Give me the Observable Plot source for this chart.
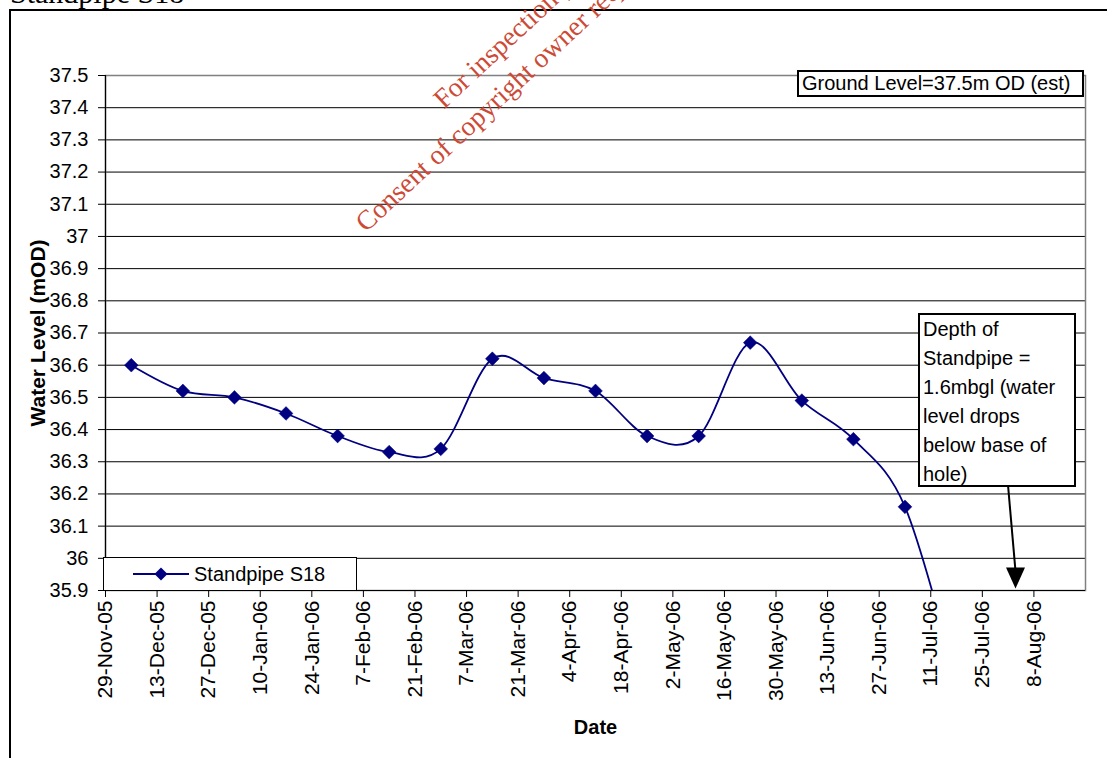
<!DOCTYPE html>
<html>
<head>
<meta charset="utf-8">
<script src="https://cdn.jsdelivr.net/npm/d3@7"></script>
<script src="https://cdn.jsdelivr.net/npm/@observablehq/plot@0.6"></script>
<style>
html, body { margin: 0; padding: 0; background: #fff; width: 1107px; height: 758px; overflow: hidden; }
#wrap { position: relative; width: 1107px; height: 758px; overflow: hidden; font-family: "Liberation Sans", Arial, sans-serif; color: #000; }
#frame { position: absolute; left: 9px; top: 9px; width: 1300px; height: 1000px; border-left: 2px solid #000; border-top: 2px solid #000; }
#title { position: absolute; left: 10px; top: -22px; font-family: "Liberation Serif", "Times New Roman", serif; font-size: 30px; line-height: 30px; white-space: nowrap; }
#chart { position: absolute; left: 0; top: 0; }
.box { position: absolute; background: #fff; border: 2px solid #000; box-sizing: border-box; font-size: 20px; z-index: 3; }
#ground { left: 797px; top: 70px; width: 287px; height: 27px; line-height: 23px; padding-left: 3px; white-space: nowrap; }
#depth { left: 918px; top: 313px; width: 158px; height: 174px; line-height: 29px; padding-left: 3px; padding-top: 0px; }
#legend { left: 103px; top: 557px; width: 254px; height: 34px; border-width: 1.5px; display: flex; align-items: center; }
#legend svg { margin-left: 29px; margin-right: 5px; }
#wm { position: absolute; left: 0; top: 0; z-index: 5; pointer-events: none; }
</style>
</head>
<body>
<div id="wrap">
  <div id="frame"></div>
  <div id="title">Standpipe S18</div>
  <div id="chart"></div>
  <div class="box" id="ground">Ground Level=37.5m OD (est)</div>
  <div class="box" id="depth">Depth of<br>Standpipe =<br>1.6mbgl (water<br>level drops<br>below base of<br>hole)</div>
  <div class="box" id="legend"><svg width="56" height="20"><line x1="0" y1="10" x2="56" y2="10" stroke="#000080" stroke-width="1.8"/><path d="M28,3.5 L34.5,10 L28,16.5 L21.5,10 Z" fill="#000080"/></svg><span>Standpipe S18</span></div>
  <svg id="wm" width="1107" height="758">
    <g transform="translate(366,233) rotate(-43)" font-family="Liberation Serif, Times New Roman, serif" font-size="27.5" fill="#cc4a36">
      <text id="wm2" x="0" y="0">Consent of copyright owner required for any other use.</text>
      <text id="wm1" x="286" y="-37" text-anchor="middle">For inspection purposes only.</text>
    </g>
  </svg>
</div>
<script>
// ---- data ----
const sampleDates = ["2005-12-06","2005-12-20","2006-01-03","2006-01-17","2006-01-31","2006-02-14","2006-02-28","2006-03-14","2006-03-28","2006-04-11","2006-04-25","2006-05-09","2006-05-23","2006-06-06","2006-06-20","2006-07-04","2006-07-18"];
const waterLevels = [36.60,36.52,36.50,36.45,36.38,36.33,36.34,36.62,36.56,36.52,36.38,36.38,36.67,36.49,36.37,36.16,35.62];
const xTickDates = ["2005-11-29","2005-12-13","2005-12-27","2006-01-10","2006-01-24","2006-02-07","2006-02-21","2006-03-07","2006-03-21","2006-04-04","2006-04-18","2006-05-02","2006-05-16","2006-05-30","2006-06-13","2006-06-27","2006-07-11","2006-07-25","2006-08-08"];
const yTicks = [35.9,36.0,36.1,36.2,36.3,36.4,36.5,36.6,36.7,36.8,36.9,37.0,37.1,37.2,37.3,37.4,37.5];
const xDomain = ["2005-11-29","2006-08-22"];
const yDomain = [35.9, 37.5];
// annotation arrow (from the "Depth of Standpipe" box down to the axis)
const arrowFrom = {date: "2006-08-01", level: 36.223};
const arrowTo = {date: "2006-08-03", level: 35.96};
const arrowTip = {date: "2006-08-03", level: 35.9};

const data = sampleDates.map((d, i) => ({date: new Date(d), level: waterLevels[i]}));
const visible = data.filter(d => d.level >= yDomain[0]);
const fmt = d3.utcFormat("%-d-%b-%y");

const downTriangle = {
  draw(ctx) { ctx.moveTo(0, 0); ctx.lineTo(-9.5, -21); ctx.lineTo(9.5, -21); ctx.closePath(); }
};

const chart = Plot.plot({
  width: 1107, height: 758,
  marginLeft: 105, marginRight: 22, marginTop: 75, marginBottom: 168,
  style: {background: "transparent", fontFamily: "Liberation Sans, Arial, sans-serif", color: "#000", overflow: "visible"},
  x: {type: "utc", domain: xDomain.map(d => new Date(d))},
  y: {domain: yDomain},
  marks: [
    Plot.ruleY(yTicks, {stroke: "#000", strokeWidth: 1}),
    Plot.frame({stroke: "#808080", strokeWidth: 1.5}),
    Plot.ruleX([new Date(xDomain[0])], {stroke: "#000", strokeWidth: 1.2}),
    Plot.ruleY([yDomain[0]], {stroke: "#000", strokeWidth: 1.2}),
    Plot.axisY({ticks: yTicks, tickSize: 7, tickPadding: 10, fontSize: 20, tickFormat: d => String(+d.toFixed(1)), label: null}),
    Plot.axisX({ticks: xTickDates.map(d => new Date(d)), tickSize: 7, tickPadding: 3, tickRotate: -90, fontSize: 21, tickFormat: fmt, label: null}),
    Plot.line(data, {x: "date", y: "level", curve: "cardinal", tension: 0, stroke: "#000080", strokeWidth: 1.8, clip: true}),
    Plot.dot(visible, {x: "date", y: "level", symbol: "diamond2", r: 6.2, fill: "#000080", stroke: "#000080", strokeWidth: 0.5}),
    Plot.text(["Water Level (mOD)"], {frameAnchor: "left", dx: -67, rotate: -90, textAnchor: "middle", lineAnchor: "middle", fontSize: 21, fontWeight: "bold"}),
    Plot.text(["Date"], {frameAnchor: "bottom", dy: 137, textAnchor: "middle", lineAnchor: "middle", fontSize: 20, fontWeight: "bold"}),
    Plot.link([{}], {x1: () => new Date(arrowFrom.date), y1: () => arrowFrom.level, x2: () => new Date(arrowTo.date), y2: () => arrowTo.level, stroke: "#000", strokeWidth: 2}),
    Plot.dot([arrowTip], {x: d => new Date(d.date), y: "level", dy: -2, symbol: downTriangle, fill: "#000", stroke: "none"})
  ]
});
document.getElementById("chart").appendChild(chart);

// center watermark line 1 over line 2
const w2 = document.getElementById("wm2").getComputedTextLength();
document.getElementById("wm1").setAttribute("x", w2 / 2);
</script>
</body>
</html>
